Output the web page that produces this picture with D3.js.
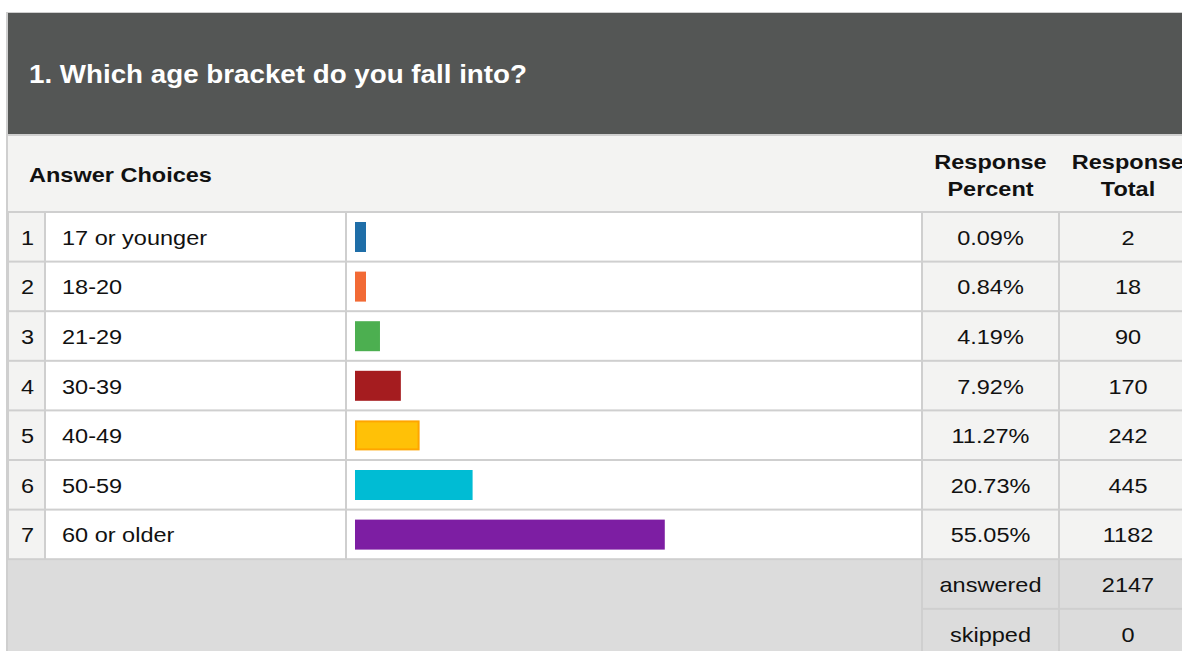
<!DOCTYPE html>
<html>
<head>
<meta charset="utf-8">
<script src="https://cdn.jsdelivr.net/npm/d3@7"></script>
<style>
  body { margin: 0; background: #fff; }
  text { font-family: "Liberation Sans", Arial, sans-serif; }
</style>
</head>
<body>
<div id="wrapper"></div>
<script>
// 1. Data
const title = "1. Which age bracket do you fall into?"
const categories = ["17 or younger", "18-20", "21-29", "30-39", "40-49", "50-59", "60 or older"]
const percents = [0.09, 0.84, 4.19, 7.92, 11.27, 20.73, 55.05]
const totals = [2, 18, 90, 170, 242, 445, 1182]
const barColors = ["#1f6ea8", "#f26a35", "#4caf50", "#a51c1f", "#ffc107", "#00bcd4", "#7d1ea3"]
const barStrokes = [null, null, null, null, "#ffa500", null, null]
const summaryLabels = ["answered", "skipped"]
const summaryValues = [2147, 0]

const dataset = categories.map((c, i) => ({
    idx: i + 1, name: c, pct: percents[i], total: totals[i],
    color: barColors[i], stroke: barStrokes[i]
}))

// 2. Dimensions
const width = 1182, height = 651
const sx = 1.12   // screenshot text is slightly stretched horizontally
const cols = { left: 8, num: 45, label: 346, bar: 922, pct: 1059, right: 1197 }
const headTop = 13, headBottom = 135, colHeadBottom = 212, rowH = 49.6
const grid = "#cfcfcf", light = "#f3f3f2", footBg = "#dcdcdc"

// 3. Canvas
const svg = d3.select("#wrapper").append("svg")
    .attr("width", width).attr("height", height)

function addText(g, x, y, str, o = {}) {
    return g.append("text")
        .attr("transform", `translate(${x},${y}) scale(${o.sx || sx},1)`)
        .attr("text-anchor", o.anchor || "start")
        .style("font-size", (o.size || 21) + "px")
        .style("font-weight", o.bold ? "bold" : "normal")
        .attr("fill", o.fill || "#111")
        .text(str)
}

// 4. Scales
const yScale = d3.scaleBand()
    .domain(categories)
    .range([colHeadBottom, colHeadBottom + rowH * categories.length])
const footY = yScale.range()[1]
const ySummary = d3.scaleBand()
    .domain(summaryLabels)
    .range([footY, footY + rowH * summaryLabels.length])
const xScale = d3.scaleLinear().domain([0, 100]).range([0, 560])

// frame + dark header
svg.append("rect").attr("x", cols.left - 2).attr("y", headTop - 1)
    .attr("width", width).attr("height", height).attr("fill", grid)
svg.append("rect").attr("x", cols.left).attr("y", headTop)
    .attr("width", width).attr("height", headBottom - headTop - 1).attr("fill", "#545655")
addText(svg, 29, 83, title, { size: 25, bold: true, fill: "#fff", sx: 1.11 })

// column header row
svg.append("rect").attr("x", cols.left).attr("y", headBottom + 1)
    .attr("width", width).attr("height", colHeadBottom - headBottom - 2).attr("fill", light)
addText(svg, 29, 182, "Answer Choices", { bold: true })
const pctMid = (cols.bar + cols.pct) / 2, totMid = (cols.pct + cols.right) / 2
addText(svg, pctMid, 169, "Response", { bold: true, anchor: "middle" })
addText(svg, pctMid, 196, "Percent", { bold: true, anchor: "middle" })
addText(svg, totMid, 169, "Response", { bold: true, anchor: "middle" })
addText(svg, totMid, 196, "Total", { bold: true, anchor: "middle" })

// 5. Rows
const rows = svg.selectAll(".row").data(dataset).enter().append("g")
    .attr("class", "row")
    .attr("transform", d => `translate(0,${yScale(d.name)})`)

const cellDefs = [
    [cols.left, cols.num, light], [cols.num, cols.label, "#fff"],
    [cols.label, cols.bar, "#fff"], [cols.bar, cols.pct, light], [cols.pct, cols.right, light]
]
cellDefs.forEach(([x0, x1, fill]) => {
    rows.append("rect").attr("x", x0 + 1).attr("y", 1)
        .attr("width", x1 - x0 - 2).attr("height", yScale.bandwidth() - 2)
        .attr("fill", fill)
})

rows.each(function (d) {
    const g = d3.select(this)
    const base = yScale.bandwidth() / 2 + 8
    addText(g, (cols.left + cols.num) / 2 + 1, base, d.idx, { anchor: "middle" })
    addText(g, 62, base, d.name)
    addText(g, pctMid, base, d3.format(".2f")(d.pct) + "%", { anchor: "middle" })
    addText(g, totMid, base, d.total, { anchor: "middle" })
})

rows.append("rect")
    .attr("x", d => cols.label + 9 + (d.stroke ? 1 : 0))
    .attr("y", d => 10 + (d.stroke ? 1 : 0))
    .attr("width", d => Math.max(11, xScale(d.pct) + 1.5) - (d.stroke ? 2 : 0))
    .attr("height", d => 30 - (d.stroke ? 2 : 0))
    .attr("fill", d => d.color)
    .attr("stroke", d => d.stroke)
    .attr("stroke-width", d => d.stroke ? 2 : 0)

// 6. Footer
svg.append("rect").attr("x", cols.left).attr("y", footY + 1)
    .attr("width", cols.bar - cols.left - 1).attr("height", height).attr("fill", footBg)
const foot = svg.selectAll(".foot").data(summaryLabels).enter().append("g")
    .attr("class", "foot")
    .attr("transform", d => `translate(0,${ySummary(d)})`)
foot.append("rect").attr("x", cols.bar + 1).attr("y", 1)
    .attr("width", cols.pct - cols.bar - 2).attr("height", ySummary.bandwidth() - 2).attr("fill", footBg)
foot.append("rect").attr("x", cols.pct + 1).attr("y", 1)
    .attr("width", cols.right - cols.pct - 2).attr("height", ySummary.bandwidth() - 2).attr("fill", footBg)
foot.each(function (d, i) {
    const g = d3.select(this)
    const base = ySummary.bandwidth() / 2 + 8
    addText(g, pctMid, base, d, { anchor: "middle" })
    addText(g, totMid, base, summaryValues[i], { anchor: "middle" })
})
</script>
</body>
</html>
